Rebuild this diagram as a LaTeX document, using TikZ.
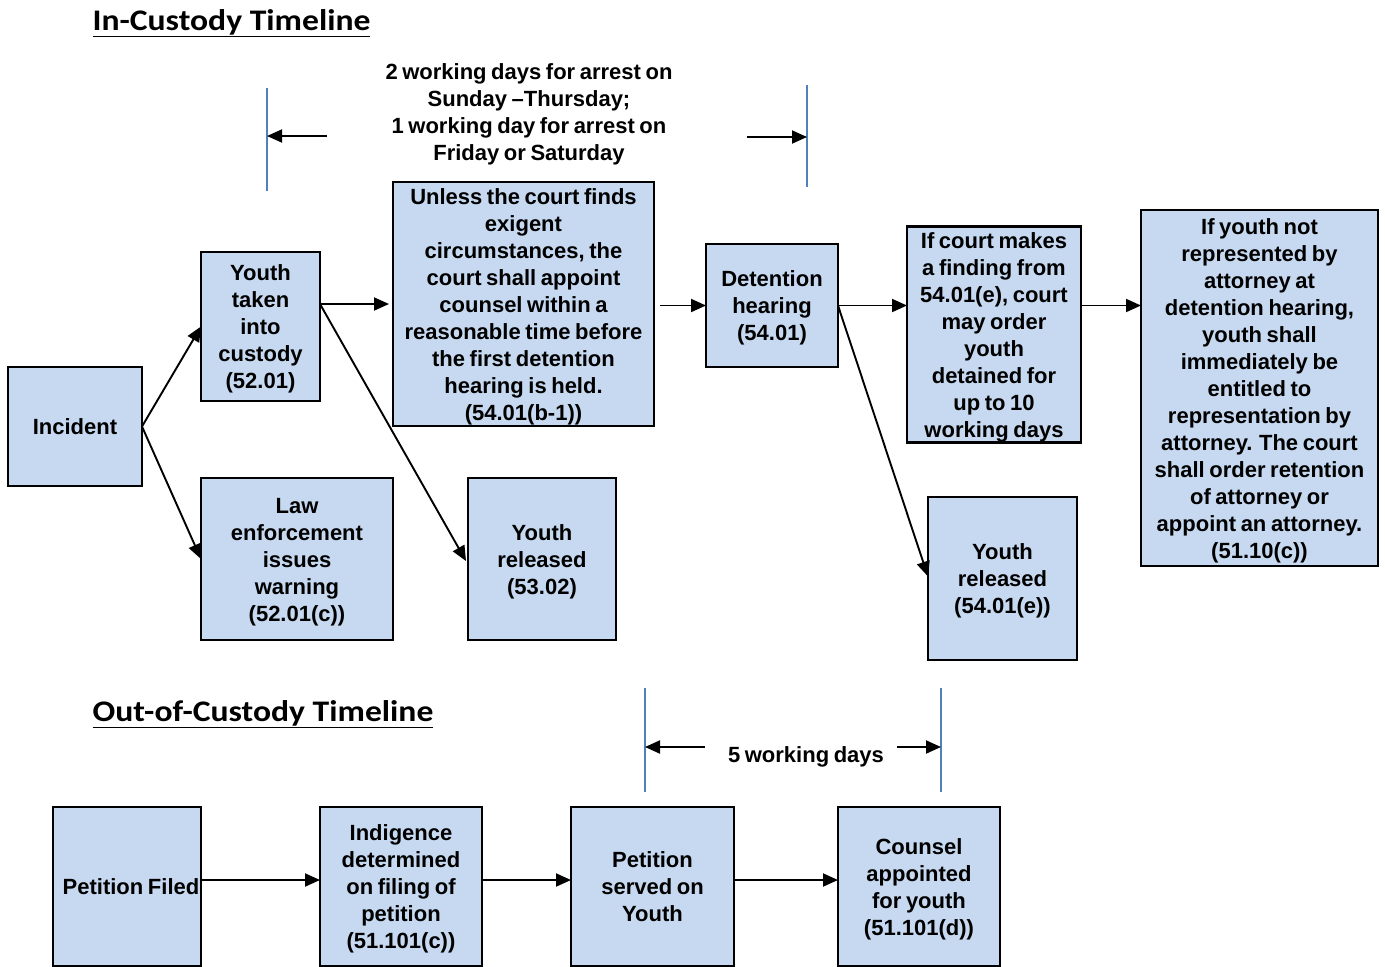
\documentclass[tikz,border=0pt]{standalone}
\usepackage{fontspec}
\setmainfont{Liberation Sans}[WordSpace=0.75]
\newfontfamily\titlefont{Carlito}
\usetikzlibrary{arrows.meta}
\definecolor{boxblue}{HTML}{C6D9F0}
\definecolor{dimblue}{HTML}{4F81BD}
\newcommand\bx[1]{\raisebox{-3pt}[\height][\depth]{\begin{tabular}{@{}c@{}}#1\end{tabular}}}
\begin{document}
\begin{tikzpicture}[x=1pt,y=-1pt,
  every node/.style={inner sep=0pt,outer sep=0pt},
  bodytext/.style={font=\fontsize{22}{27}\selectfont\bfseries,align=center},
  box/.style={bodytext,draw=black,fill=boxblue,line width=2.1pt,minimum width=#1},
  box/.default=100pt,
  conn/.style={line width=1.9pt,-{Triangle[length=15pt,width=13pt]}},
  dimline/.style={draw=dimblue,line width=1.6pt},
  ttl/.style={font=\titlefont\fontsize{29}{32}\selectfont\bfseries}]
\useasboundingbox (0,0) rectangle (1385,967);
% titles
\node[ttl] (t1) at (231.5,23) {\scalebox{1.16}[1.03]{\underline{In-Custody Timeline}}};
\node[ttl] (t2) at (263,714) {\scalebox{1.16}[1.03]{\underline{Out-of-Custody Timeline}}};
% in-custody boxes
\node[box=134pt,minimum height=119pt] (incident) at (75,426.5) {\bx{Incident}};
\node[box=119pt,minimum height=149pt] (custody) at (260.5,326.5) {\bx{Youth\\taken\\into\\custody\\(52.01)}};
\node[box=192pt,minimum height=162pt] (law) at (297,559) {\bx{Law\\enforcement\\issues\\warning\\(52.01(c))}};
\node[box=261pt,minimum height=244pt] (unless) at (523.5,304) {\bx{Unless the court finds\\exigent\\circumstances, the\\court shall appoint\\counsel within a\\reasonable time before\\the first detention\\hearing is held.\\(54.01(b-1))}};
\node[box=148pt,minimum height=162pt] (rel1) at (542,559) {\bx{Youth\\released\\(53.02)}};
\node[box=132pt,minimum height=123pt] (det) at (772,305.5) {\bx{Detention\\hearing\\(54.01)}};
\node[box=174pt,minimum height=213pt] (order) at (994,334.5) {\bx{If court makes\\a finding from\\54.01(e), court\\may order\\youth\\detained for\\up to 10\\working days}};
\node[box=149pt,minimum height=163pt] (rel2) at (1002.5,578.5) {\bx{Youth\\released\\(54.01(e))}};
\node[box=237pt,minimum height=356pt] (rep) at (1259.5,388) {\bx{If youth not\\represented by\\attorney at\\detention hearing,\\youth shall\\immediately be\\entitled to\\representation by\\attorney. The court\\shall order retention\\of attorney or\\appoint an attorney.\\(51.10(c))}};
% in-custody connectors
\draw[conn] (incident.east) -- (custody.west);
\draw[conn] (incident.east) -- (law.west);
\draw[conn] (custody.east |- unless.west) -- ([xshift=-4pt]unless.west);
\draw[conn] (custody.east |- unless.west) -- ([xshift=-2pt,yshift=-2pt]rel1.west);
\draw[conn,shorten <=6pt] (unless.east |- det.east) -- (det.west);
\draw[conn] (det.east) -- (order.west |- det.east);
\draw[conn] (det.east) -- ([yshift=2pt]rel2.west);
\draw[conn] (order.east |- det.east) -- (rep.west |- det.east);
% 2-day dimension
\coordinate (dl1) at (267,88); \coordinate (dl2) at (267,191);
\coordinate (dr1) at (807,85); \coordinate (dr2) at (807,187);
\draw[dimline] (dl1) -- (dl2);
\draw[dimline] (dr1) -- (dr2);
\coordinate (al) at (327,136); \coordinate (ar) at (747,137);
\draw[conn] (al) -- (dl1 |- al);
\draw[conn] (ar) -- (dr1 |- ar);
\node[bodytext] (dimtext) at (529,114) {2 working days for arrest on\\Sunday --Thursday;\\1 working day for arrest on\\Friday or Saturday};
% out-of-custody boxes
\node[box=148pt,minimum height=159pt] (filed) at (127,886.5) {\bx{\hspace*{8pt}Petition Filed}};
\node[box=162pt,minimum height=159pt] (indig) at (401,886.5) {\bx{Indigence\\determined\\on filing of\\petition\\(51.101(c))}};
\node[box=163pt,minimum height=159pt] (served) at (652.5,886.5) {\bx{Petition\\served on\\Youth}};
\node[box=162pt,minimum height=159pt] (counsel) at (919,886.5) {\bx{Counsel\\appointed\\for youth\\(51.101(d))}};
\draw[conn] ([yshift=6.5pt]filed.east) -- ([yshift=6.5pt]indig.west);
\draw[conn] ([yshift=6.5pt]indig.east) -- ([yshift=6.5pt]served.west);
\draw[conn] ([yshift=6.5pt]served.east) -- ([yshift=6.5pt]counsel.west);
% 5-day dimension
\coordinate (bl1) at (645,688); \coordinate (bl2) at (645,792);
\coordinate (br1) at (941,688); \coordinate (br2) at (941,792);
\draw[dimline] (bl1) -- (bl2);
\draw[dimline] (br1) -- (br2);
\coordinate (bal) at (705,747); \coordinate (bar) at (897,747);
\draw[conn] (bal) -- (bl1 |- bal);
\draw[conn] (bar) -- (br1 |- bar);
\node[bodytext] (fivetext) at (806,757) {5 working days};
\end{tikzpicture}
\end{document}
